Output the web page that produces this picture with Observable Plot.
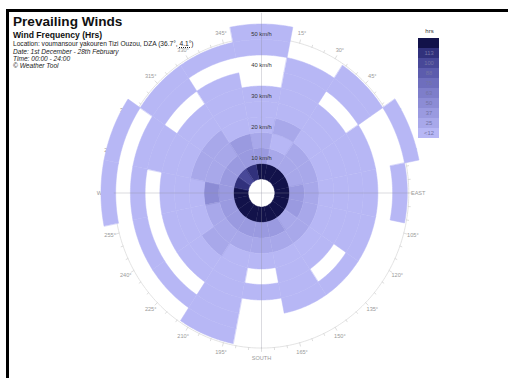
<!DOCTYPE html>
<html>
<head>
<meta charset="utf-8">
<script src="https://cdn.jsdelivr.net/npm/d3@7"></script>
<script src="https://cdn.jsdelivr.net/npm/@observablehq/plot@0.6"></script>
<style>
  html, body { margin: 0; padding: 0; background: #fff; }
  #wrap { position: relative; width: 508px; height: 378px; overflow: hidden;
          font-family: "Liberation Sans", Arial, sans-serif; }
  #frame { position: absolute; left: 6px; top: 9px; width: 700px; height: 600px;
           border-left: 3px solid #000; border-top: 3px solid #000; box-sizing: border-box; }
  #rose { position: absolute; left: 0; top: 0; }
  #legend { position: absolute; left: 418px; top: 37px; }
  .t { position: absolute; white-space: nowrap; line-height: 1; }
  #title { left: 13px; top: 15px; font-size: 13.6px; font-weight: bold; color: #111; }
  #subtitle { left: 13px; top: 31px; font-size: 8.6px; font-weight: bold; color: #111; }
  .small { left: 13px; font-size: 6.6px; color: #222; }
  .small i { font-style: italic; }
  #hrs { left: 419px; top: 27.5px; width: 21px; text-align: center; font-size: 6px; color: #333; }
  .dot { text-decoration: underline dotted; }
</style>
</head>
<body>
<div id="wrap">
  <div id="rose"></div>
  <div id="legend"></div>
  <div id="frame"></div>
  <div class="t" id="title">Prevailing Winds</div>
  <div class="t" id="subtitle">Wind Frequency (Hrs)</div>
  <div class="t small" style="top:41.4px">Location: voumansour yakouren Tizi Ouzou, DZA (36.7°, <span class="dot">4.1°</span>)</div>
  <div class="t small" style="top:48.9px"><i>Date: 1st December - 28th February</i></div>
  <div class="t small" style="top:56.3px"><i>Time: 00:00 - 24:00</i></div>
  <div class="t small" style="top:63.3px"><i>© Weather Tool</i></div>
  <div class="t" id="hrs">hrs</div>
</div>
<script>
// Sixteen compass sectors, clockwise from north
const directions = ["N","NNE","NE","ENE","E","ESE","SE","SSE","S","SSW","SW","WSW","W","WNW","NW","NNW"];
// Speed bin edges in km/h
const speedEdges = [0, 5, 10, 15, 20, 25, 30, 35, 40, 45, 50];

// Hours per sector for each speed bin (columns follow `directions`)
const hrs00_05 = [118, 130, 135, 130, 120, 126, 130, 132, 128, 130, 126, 118, 115, 105, 92, 104];
const hrs05_10 = [26, 18, 20, 24, 28, 26, 24, 28, 28, 30, 28, 28, 30, 28, 26, 28];
const hrs10_15 = [18, 10, 15, 14, 16, 18, 16, 18, 16, 18, 18, 22, 40, 24, 20, 28];
const hrs15_20 = [10, 18, 10, 8, 12, 10, 10, 12, 10, 12, 14, 12, 10, 14, 16, 10];
const hrs20_25 = [8, 8, 8, 8, 8, 8, 8, 8, 0, 8, 8, 8, 8, 8, 8, 8];
const hrs25_30 = [5, 5, 5, 5, 5, 5, 0, 5, 5, 5, 5, 5, 5, 5, 5, 5];
const hrs30_35 = [0, 4, 0, 4, 4, 4, 4, 4, 0, 4, 0, 0, 0, 4, 0, 4];
const hrs35_40 = [0, 3, 3, 0, 0, 0, 0, 0, 0, 3, 3, 3, 3, 3, 3, 0];
const hrs40_45 = [2, 0, 2, 0, 2, 0, 0, 0, 0, 2, 0, 0, 0, 0, 2, 2];
const hrs45_50 = [1, 0, 0, 1, 0, 0, 0, 0, 0, 0, 0, 0, 1, 1, 0, 0];
const hoursBySpeed = [hrs00_05, hrs05_10, hrs10_15, hrs15_20, hrs20_25,
                      hrs25_30, hrs30_35, hrs35_40, hrs40_45, hrs45_50];

// Colour key
const colourBreaks = [12.5, 25, 37.5, 50, 62.5, 75, 87.5, 100, 112.5];
const colourRamp = ["#b7b7f5", "#a8a8ea", "#9a9ae0", "#8c8cd5", "#7e7eca",
                    "#6e6ebd", "#5c5cad", "#484898", "#31317c", "#12124a"];
const legendHours = [6, 18.75, 31.25, 43.75, 56.25, 68.75, 81.25, 93.75, 106.25, 120];
const legendLabels = ["<12", "25", "37", "50", "63", "75", "88", "100", "113", ""];

// Direction ring labels
const labelAngles = d3.range(0, 360, 15);
const cardinal = {0: "NORTH", 90: "EAST", 180: "SOUTH", 270: "WEST"};
// Speed ring labels
const speedLabels = [10, 20, 30, 40, 50];

const colour = {type: "threshold", domain: colourBreaks, range: colourRamp};

// Polar layout: longitude = compass bearing, latitude = wind speed
const radius = d3.scaleLinear().domain([0, 50]).range([14, 169]);
const cx = 261, cy = 192.5, squeeze = 0.95;
const polar = d3.geoTransform({
  point(angle, speed) {
    const a = angle * Math.PI / 180, r = radius(speed);
    this.stream.point(cx + squeeze * r * Math.sin(a), cy - r * Math.cos(a));
  }
});

const sector = 360 / directions.length;
const cells = [];
hoursBySpeed.forEach((row, b) => row.forEach((h, d) => {
  if (!h) return;
  const a0 = d * sector - sector / 2, a1 = d * sector + sector / 2;
  const s0 = speedEdges[b], s1 = speedEdges[b + 1];
  const arc = d3.range(a0, a1 + 1e-9, 0.75);
  const ring = [...arc.map(a => [a, s1]), ...arc.slice().reverse().map(a => [a, s0])];
  ring.push(ring[0]);
  cells.push({type: "Feature", properties: {hours: h, dir: directions[d]},
              geometry: {type: "Polygon", coordinates: [ring]}});
}));

const tickSpeed = 45.5, labelSpeed = 48.7;
const tickCircle = {type: "LineString",
  coordinates: d3.range(0, 361, 1).map(a => [a, tickSpeed])};
const ticks = d3.range(0, 360, 5).map(a => ({type: "LineString",
  coordinates: [[a, tickSpeed], [a, tickSpeed + (a % 15 ? 0.7 : 1.1)]]}));
const cross = [
  {type: "LineString", coordinates: [[0, tickSpeed + 8], [180, tickSpeed]]},
  {type: "LineString", coordinates: [[90, tickSpeed], [270, tickSpeed]]}
];

const rose = Plot.plot({
  width: 508, height: 378, margin: 0,
  projection: polar,
  color: colour,
  style: {fontFamily: "Liberation Sans, Arial, sans-serif", background: "transparent"},
  marks: [
    Plot.geo([tickCircle], {stroke: "#dcdcdc", strokeWidth: 0.8}),
    Plot.geo(ticks, {stroke: "#d0d0d0", strokeWidth: 0.7}),
    Plot.text(labelAngles, {x: d => d, y: labelSpeed,
      text: d => cardinal[d] ?? `${d}°`, fill: "#9a9a9a", fontSize: 5.6}),
    Plot.geo(cells, {fill: d => d.properties.hours, stroke: d => d.properties.hours, strokeWidth: 0.5}),
    Plot.geo(cross, {stroke: "#8c8c9c", strokeOpacity: 0.45, strokeWidth: 0.7}),
    Plot.text(speedLabels, {x: 0, y: d => d, dy: 10, text: d => `${d} km/h`,
      fill: "#333", fontSize: 5.8})
  ]
});
document.getElementById("rose").append(rose);

const legend = Plot.plot({
  width: 21, height: 102, margin: 0,
  x: {axis: null},
  y: {axis: null, domain: legendHours.slice().reverse(), padding: 0},
  color: colour,
  style: {fontFamily: "Liberation Sans, Arial, sans-serif", background: "transparent"},
  marks: [
    Plot.cell(legendHours, {y: d => d, fill: d => d}),
    Plot.text(legendHours, {y: d => d, text: (d, i) => legendLabels[i],
      fill: "#7474a4", fontSize: 5.8})
  ]
});
document.getElementById("legend").append(legend);
</script>
</body>
</html>
